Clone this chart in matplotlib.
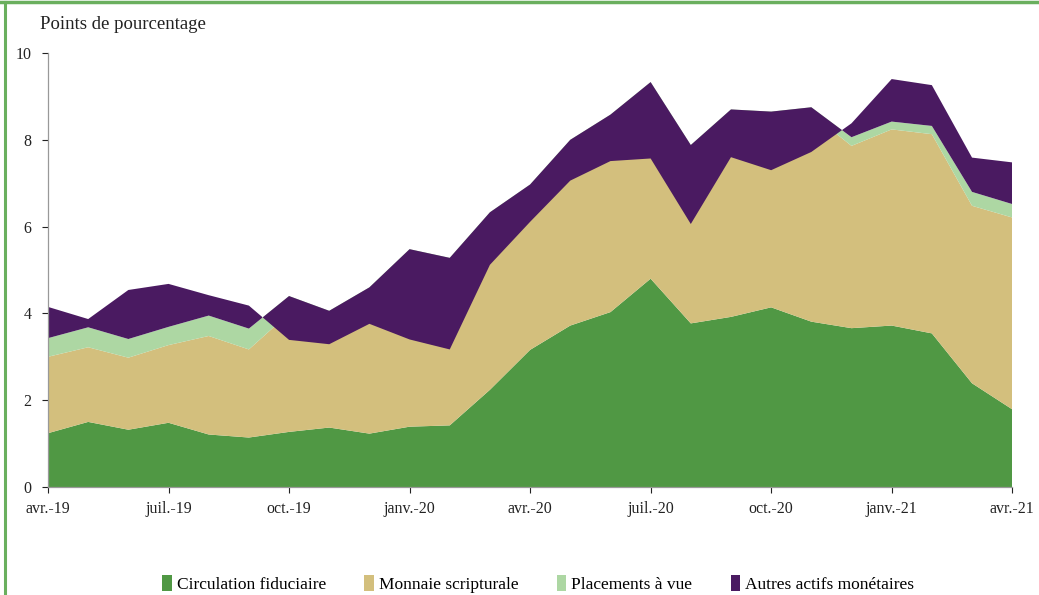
import numpy as np
import matplotlib
matplotlib.use('Agg')
from matplotlib import pyplot as plt
from matplotlib.patches import Patch
from matplotlib.lines import Line2D

# contributions en points de pourcentage, avr.-19 .. avr.-21 (mensuel)
mois = ['avr.-19', 'mai-19', 'juin-19', 'juil.-19', 'août-19', 'sept.-19',
        'oct.-19', 'nov.-19', 'déc.-19', 'janv.-20', 'févr.-20', 'mars-20',
        'avr.-20', 'mai-20', 'juin-20', 'juil.-20', 'août-20', 'sept.-20',
        'oct.-20', 'nov.-20', 'déc.-20', 'janv.-21', 'févr.-21', 'mars-21',
        'avr.-21']
circulation = [1.24, 1.50, 1.32, 1.48, 1.21, 1.14, 1.27, 1.37, 1.23, 1.39,
               1.42, 2.24, 3.16, 3.72, 4.03, 4.80, 3.77, 3.92, 4.14, 3.81,
               3.66, 3.72, 3.54, 2.39, 1.79]
scripturale = [1.76, 1.72, 1.66, 1.79, 2.27, 2.03, 2.73, 2.34, 3.07, 3.79,
               3.56, 3.79, 3.56, 4.03, 4.30, 4.28, 3.91, 4.58, 4.31, 4.79,
               4.20, 4.52, 4.59, 4.09, 4.42]
placements = [0.43, 0.46, 0.43, 0.42, 0.47, 0.48, 0.40, 0.35, 0.30, 0.30,
              0.30, 0.30, 0.25, 0.25, 0.25, 0.25, 0.20, 0.20, 0.20, 0.15,
              0.20, 0.18, 0.19, 0.32, 0.31]
autres = [0.72, 0.19, 1.13, 0.99, 0.47, 0.53, -1.01, -0.77, -0.84, -2.08,
          -2.11, -1.21, -0.86, -0.94, -1.07, -1.76, -1.82, -1.10, -1.35, -1.03,
          0.32, 0.98, 0.94, 0.79, 0.96]

noms = ['Circulation fiduciaire', 'Monnaie scripturale', 'Placements à vue',
        'Autres actifs monétaires']
couleurs = ['#509844', '#D3BF7D', '#ADD7A3', '#4A1A61']

plt.rcParams['font.family'] = ['Liberation Serif', 'DejaVu Serif']

fig = plt.figure(figsize=(10.39, 5.95), dpi=100)
ax = fig.add_axes([0.0462, 0.1815, 0.928, 0.7294])

x = np.arange(len(mois))
ax.stackplot(x, circulation, scripturale, placements, autres,
             colors=couleurs, linewidth=0, antialiased=True)

ax.set_xlim(0, len(mois) - 1)
ax.set_ylim(0, 10)
ax.set_yticks([0, 2, 4, 6, 8, 10])
ax.set_xticks(x[::3])
ax.set_xticklabels(mois[::3])
ax.tick_params(axis='both', labelsize=11.5, colors='#222222', length=4,
               width=0.8, direction='out')
ax.tick_params(axis='x', pad=6)
ax.tick_params(axis='y', pad=8)
for s in ['top', 'right']:
    ax.spines[s].set_visible(False)
for s in ['left', 'bottom']:
    ax.spines[s].set_color('#999999')
    ax.spines[s].set_linewidth(0.9)
for t in ax.get_xticklines() + ax.get_yticklines():
    t.set_color('#999999')

fig.text(0.0385, 0.958, 'Points de pourcentage', fontsize=13.5,
         color='#222222', va='center')

handles = [Patch(facecolor=c, edgecolor='none') for c in couleurs]
fig.legend(handles, noms, loc='center', bbox_to_anchor=(0.518, 0.018), ncol=4,
           frameon=False, fontsize=12.5, handlelength=0.55, handleheight=1.0,
           handletextpad=0.3, columnspacing=2.2)

# cadre vert
fig.add_artist(Line2D([0.005, 0.005], [0, 0.997], transform=fig.transFigure,
                      color='#6AAF5E', linewidth=2.2))
fig.add_artist(Line2D([0.0, 1.0], [0.997, 0.997], transform=fig.transFigure,
                      color='#6AAF5E', linewidth=2.5))

fig.savefig('out.png', dpi=100)
